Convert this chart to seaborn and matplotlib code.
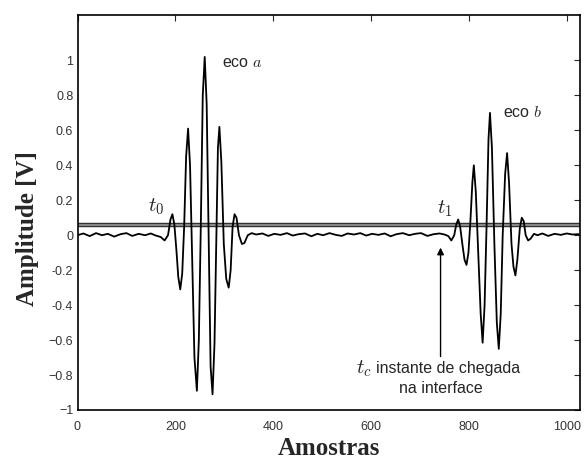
import matplotlib
matplotlib.use("Agg")
import matplotlib.pyplot as plt
import seaborn as sns
import pandas as pd

# signal: sample index and amplitude at the turning points
amostras = [0, 12, 25, 38, 50, 62, 75, 88, 100, 112, 125, 138, 150, 160, 170, 178, 185, 190, 194, 198,
            202, 206, 210, 214, 218, 222, 226, 230, 234, 239, 244, 248, 252, 256, 260, 264, 268, 272,
            276, 280, 284, 287, 290, 294, 299, 304, 309, 313, 317, 321, 325, 330, 336, 341, 348, 356,
            365, 378, 390, 402, 415, 428, 440, 452, 465, 478, 490, 502, 515, 528, 540, 552, 565, 578,
            590, 602, 615, 628, 640, 652, 665, 678, 690, 702, 715, 728, 740, 750, 758, 764, 770, 774,
            778, 782, 787, 791, 795, 799, 803, 807, 810, 814, 819, 824, 828, 832, 836, 840, 843, 847,
            852, 857, 861, 865, 869, 874, 878, 882, 887, 891, 895, 899, 904, 908, 912, 916, 921, 926,
            933, 940, 950, 962, 975, 988, 1000, 1012, 1024]
amplitude = [0.00, 0.01, -0.005, 0.012, 0.0, 0.008, -0.008, 0.006, 0.012, -0.004, 0.008, 0.0, 0.01, -0.002,
             -0.01, -0.03, 0.0, 0.09, 0.12, 0.06, -0.08, -0.24, -0.31, -0.22, 0.05, 0.45, 0.61, 0.40,
             -0.10, -0.70, -0.89, -0.60, 0.05, 0.80, 1.02, 0.75, 0.0, -0.75, -0.91, -0.62, 0.0, 0.50,
             0.62, 0.42, -0.05, -0.25, -0.30, -0.20, 0.05, 0.12, 0.10, 0.0, -0.05, -0.045, 0.0, 0.012,
             0.004, 0.01, -0.004, 0.008, 0.002, 0.012, -0.002, 0.006, 0.01, -0.006, 0.008, 0.0, 0.012,
             0.002, -0.004, 0.01, 0.004, 0.012, -0.002, 0.008, 0.002, 0.01, -0.006, 0.006, 0.012, 0.0,
             0.008, 0.012, -0.004, 0.006, 0.01, 0.004, -0.005, -0.03, 0.0, 0.06, 0.09, 0.05, -0.06,
             -0.14, -0.17, -0.10, 0.08, 0.30, 0.40, 0.25, -0.10, -0.45, -0.615, -0.40, 0.05, 0.55, 0.70,
             0.50, -0.05, -0.50, -0.65, -0.45, 0.0, 0.35, 0.47, 0.30, -0.05, -0.18, -0.23, -0.14, 0.04,
             0.10, 0.08, 0.0, -0.03, -0.02, 0.008, 0.0, 0.01, -0.004, 0.008, 0.002, 0.01, 0.004, 0.006]
limiar = 0.06

xticks = [0, 200, 400, 600, 800, 1000]
yticks = [-1, -0.8, -0.6, -0.4, -0.2, 0, 0.2, 0.4, 0.6, 0.8, 1]
yticklabels = ["\u22121", "\u22120.8", "\u22120.6", "-0.4", "-0.2", "0", "0.2", "0.4", "0.6", "0.8", "1"]

sns.set_style("white")
plt.rcParams["font.family"] = ["Liberation Sans", "DejaVu Sans"]
plt.rcParams["mathtext.fontset"] = "cm"

df = pd.DataFrame({"amostras": amostras, "amplitude": amplitude})

fig = plt.figure(figsize=(5.88, 4.59), dpi=100)
ax = fig.add_axes([77.5 / 588, 1 - 410 / 459, (580 - 77.5) / 588, (410 - 15) / 459])

# threshold line
ax.axhline(limiar, color="#333333", lw=3.2, zorder=1)
ax.axhline(limiar, color="#9a9a9a", lw=1.2, zorder=1)

sns.lineplot(data=df, x="amostras", y="amplitude", ax=ax, color="black", lw=1.3, zorder=2)

ax.set_xlim(0, 1027)
ax.set_ylim(-1, 1.26)
ax.set_xticks(xticks)
ax.set_yticks(yticks)
ax.set_yticklabels(yticklabels)
ax.tick_params(direction="in", top=True, right=True, length=4, width=0.8,
               labelsize=9, labelcolor="#333333")
ax.tick_params(axis="x", pad=8)
ax.tick_params(axis="y", pad=3)
for s in ax.spines.values():
    s.set_visible(True)
    s.set_color("black")
    s.set_linewidth(1.2)

ax.set_xlabel("Amostras", family="Liberation Serif", weight="bold", fontsize=18, labelpad=3)
ax.set_ylabel("Amplitude [V]", family="Liberation Serif", weight="bold", fontsize=18, labelpad=7)
ax.yaxis.label.set_y(0.46)

# annotations
ax.text(161, 0.165, "$t_0$", fontsize=15, ha="center", va="center")
ax.text(750, 0.15, "$t_1$", fontsize=15, ha="center", va="center")
ax.text(296, 0.99, "eco $a$", fontsize=11.5, ha="left", va="center")
ax.text(869, 0.70, "eco $b$", fontsize=11.5, ha="left", va="center")
ax.annotate("", xy=(742, -0.055), xytext=(742, -0.71),
            arrowprops=dict(arrowstyle="-|>", color="black", lw=1.0, mutation_scale=10))
ax.text(586, -0.765, "$t_c$", fontsize=15, ha="center", va="center")
ax.text(757, -0.765, "instante de chegada", fontsize=11.5, ha="center", va="center")
ax.text(742, -0.875, "na interface", fontsize=11.5, ha="center", va="center")

fig.savefig("out.png", dpi=100)
